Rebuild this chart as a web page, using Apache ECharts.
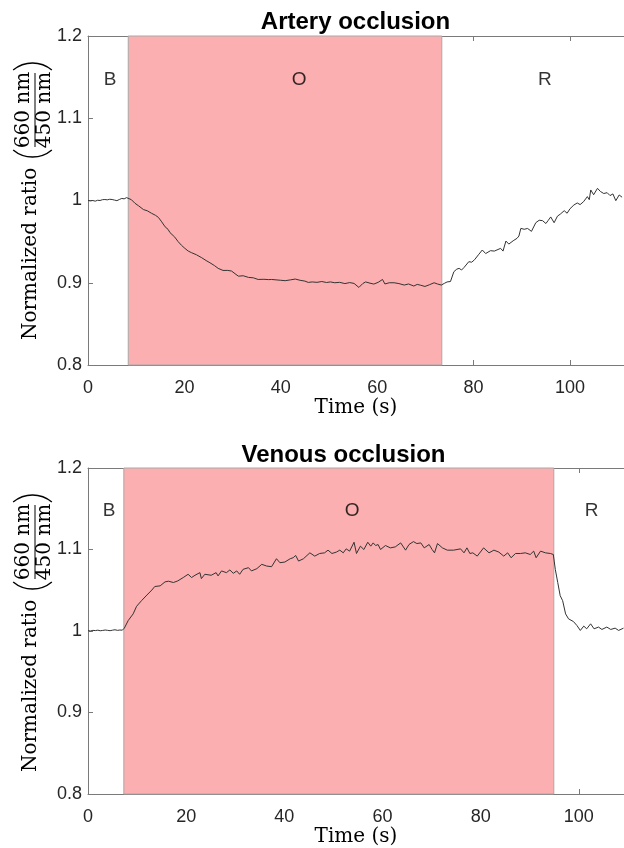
<!DOCTYPE html>
<html>
<head>
<meta charset="utf-8">
<script src="https://cdn.jsdelivr.net/npm/echarts@6/dist/echarts.min.js"></script>
<style>html,body{margin:0;padding:0;background:#fff;}#c{width:624px;height:848px;}</style>
</head>
<body>
<div id="c"></div>
<script>
// ---- data ----
const titles = ['Artery occlusion', 'Venous occlusion'];
const xTicks = [0, 20, 40, 60, 80, 100];
const yTicks = [0.8, 0.9, 1, 1.1, 1.2];
const phaseNames = ['B', 'O', 'R'];
const phaseY = 1.147;
const arteryPhaseX = [4.6, 43.8, 94.8];
const venousPhaseX = [4.3, 53.8, 102.6];
const arteryOcclusion = [8.35, 73.4];
const venousOcclusion = [7.3, 94.9];
const arteryXMax = 111.2;
const venousXMax = 109.2;

const arteryData = [[0,1.0000],[0.5,0.9995],[1,1.0000],[1.5,0.9992],[2,1.0003],[2.5,1.0000],[3,1.0010],[3.5,1.0012],[4,1.0008],[4.5,1.0015],[5,1.0012],[5.5,1.0005],[6,0.9998],[6.5,1.0012],[7,1.0025],[7.5,1.0020],[8,1.0035],[8.4,1.0030],[9,1.0010],[9.75,0.9966],[10.5,0.9935],[11.5,0.9890],[12.3,0.9875],[13.2,0.9844],[14,0.9820],[14.6,0.9795],[15.3,0.9740],[16,0.9680],[16.6,0.9650],[17,0.9610],[17.4,0.9600],[18,0.9555],[18.7,0.9500],[19.4,0.9455],[20.1,0.9418],[20.8,0.9385],[21.5,0.9365],[22.5,0.9340],[23.6,0.9304],[24.5,0.9270],[25.3,0.9243],[26.2,0.9210],[27,0.9175],[28,0.9150],[29,0.9150],[29.8,0.9142],[30.5,0.9110],[31.2,0.9080],[32.2,0.9085],[33.3,0.9065],[34.3,0.9060],[35.3,0.9040],[36.5,0.9042],[37.5,0.9038],[38.1,0.9040],[39,0.9035],[40,0.9030],[40.9,0.9025],[42,0.9035],[43,0.9045],[44,0.9030],[45,0.9020],[45.7,0.9004],[46.5,0.9010],[47.5,0.9005],[48.5,0.9015],[49.5,0.9003],[50.3,0.9010],[51.2,0.9000],[52.2,0.9005],[53.3,0.8990],[54.3,0.9002],[55.2,0.8992],[56.2,0.8943],[57,0.8990],[57.6,0.9010],[58.5,0.8995],[59.3,0.8984],[60.2,0.9005],[61.1,0.9040],[61.6,0.8985],[62.5,0.9000],[63.5,0.9000],[64.5,0.8990],[65.6,0.8972],[66.5,0.8985],[67.6,0.8960],[68.3,0.8980],[69,0.8970],[69.9,0.8955],[70.8,0.8975],[71.8,0.9000],[72.5,0.8985],[73.3,0.8972],[74,0.8995],[74.5,0.9010],[75.2,0.9015],[75.9,0.9134],[76.5,0.9165],[77,0.9175],[77.5,0.9155],[78,0.9185],[79,0.9256],[79.6,0.9250],[80.2,0.9280],[81,0.9340],[81.8,0.9398],[82.5,0.9355],[83.5,0.9390],[84.3,0.9385],[85.6,0.9418],[86.1,0.9385],[86.7,0.9507],[87.3,0.9470],[88.2,0.9510],[89,0.9540],[89.4,0.9568],[89.8,0.9661],[90.5,0.9650],[91.2,0.9660],[92,0.9625],[92.9,0.9730],[93.6,0.9760],[94.3,0.9755],[95,0.9720],[95.5,0.9760],[96,0.9800],[96.7,0.9730],[97.4,0.9810],[98,0.9835],[98.8,0.9876],[99.4,0.9845],[100,0.9900],[100.8,0.9945],[101.5,0.9970],[102.1,0.9950],[102.8,0.9985],[103.6,1.0047],[104,1.0010],[104.3,1.0128],[104.9,1.0070],[105.7,1.0148],[106.3,1.0110],[107,1.0085],[107.7,1.0095],[108.3,1.0060],[108.9,1.0080],[109.5,0.9998],[110.2,1.0067],[110.8,1.0040]];

const venousData = [[0,1.0005],[0.5,1.0000],[1,1.0008],[1.5,1.0005],[2,1.0010],[2.5,1.0003],[3,1.0007],[3.5,1.0012],[4,1.0008],[4.5,1.0004],[5,1.0010],[5.5,1.0015],[6,1.0008],[6.5,1.0012],[7,1.0010],[7.4,1.0035],[8.2,1.0129],[9.2,1.0210],[9.9,1.0303],[10.9,1.0372],[12.0,1.0441],[13.0,1.0502],[13.6,1.0546],[14.7,1.0554],[15.7,1.0603],[16.4,1.0611],[17.4,1.0595],[18.3,1.0615],[19.4,1.0656],[20.4,1.0696],[21.1,1.0656],[21.8,1.0684],[22.8,1.0716],[23.1,1.0643],[23.8,1.0696],[25.1,1.0684],[26.1,1.0716],[26.5,1.0676],[27.2,1.0737],[28.2,1.0716],[28.9,1.0749],[29.6,1.0708],[30.3,1.0737],[30.9,1.0696],[31.6,1.0757],[32.7,1.0777],[33.3,1.0737],[34.4,1.0765],[35.4,1.0818],[36.4,1.0797],[37.4,1.0789],[38.4,1.0887],[39.1,1.0838],[40.1,1.0846],[41.2,1.0887],[41.8,1.0899],[42.3,1.0927],[42.9,1.0858],[43.9,1.0887],[45.2,1.0959],[46.2,1.0919],[47.2,1.0951],[48.2,1.0959],[48.9,1.0992],[49.7,1.0951],[50.6,1.0968],[51.3,1.0992],[52.0,1.0959],[52.6,1.1008],[53.3,1.0980],[54.2,1.1089],[54.7,1.0951],[55.5,1.1041],[56.2,1.1000],[57.0,1.1089],[57.6,1.1041],[58.1,1.1081],[58.6,1.1049],[59.1,1.1061],[59.6,1.1000],[60.6,1.1049],[61.6,1.1020],[62.6,1.1032],[63.7,1.1081],[64.7,1.0992],[65.4,1.1061],[66.3,1.1097],[67.0,1.1073],[67.8,1.1081],[68.5,1.1020],[69.5,1.1061],[70.1,1.1000],[70.6,1.0959],[71.2,1.1073],[72.2,1.1020],[73.2,1.0992],[74.5,1.0992],[75.9,1.1008],[76.6,1.0959],[77.2,1.1020],[77.8,1.0951],[78.4,1.0959],[79.3,1.0919],[80.6,1.1020],[81.7,1.0959],[82.7,1.0992],[83.7,1.0968],[84.7,1.0919],[85.5,1.0959],[86.2,1.0899],[87.1,1.0951],[88.1,1.0951],[89.1,1.0959],[90.1,1.0939],[90.8,1.0980],[91.3,1.0899],[92.2,1.0980],[93.2,1.0959],[94.2,1.0951],[94.8,1.0939],[95.2,1.0757],[95.7,1.0595],[96.2,1.0433],[96.7,1.0372],[97.3,1.0210],[97.9,1.0149],[98.9,1.0116],[99.6,1.0068],[100.3,1.0007],[101.0,1.0060],[101.6,1.0027],[102.4,1.0088],[103.1,1.0027],[104.0,1.0048],[104.7,1.0019],[105.7,1.0048],[106.5,1.0019],[107.4,1.0035],[108.1,1.0007],[109.1,1.0035]];

// ---- styling / layout ----
const AX = '#7a7a7a';
const SANS = '"Liberation Sans", Arial, sans-serif';
const SERIF = '"DejaVu Serif", serif';
const PINK = '#FCAFB0';
const gridTops = [36, 468];
const plotH = 329;

function xBottom(gi, xmax) {
  return {
    type: 'value', gridIndex: gi, position: 'bottom', min: 0, max: xmax,
    axisLine: { show: true, onZero: false, lineStyle: { color: AX, width: 1 } },
    axisTick: { show: true, inside: true, length: 5, customValues: xTicks, lineStyle: { color: AX } },
    axisLabel: { customValues: xTicks, fontSize: 18, fontFamily: SANS, color: '#262626', margin: 14 },
    splitLine: { show: false },
    name: 'Time (s)', nameLocation: 'middle', nameGap: 33,
    nameTextStyle: { fontFamily: SERIF, fontSize: 20, color: '#000' }
  };
}
function xTop(gi, xmax) {
  return {
    type: 'value', gridIndex: gi, position: 'top', min: 0, max: xmax,
    axisLine: { show: true, onZero: false, lineStyle: { color: AX, width: 1 } },
    axisTick: { show: true, inside: true, length: 5, customValues: xTicks, lineStyle: { color: AX } },
    axisLabel: { show: false }, splitLine: { show: false }
  };
}
function yLeft(gi) {
  return {
    type: 'value', gridIndex: gi, min: 0.8, max: 1.2,
    axisLine: { show: true, onZero: false, lineStyle: { color: AX, width: 1 } },
    axisTick: { show: true, inside: true, length: 5, customValues: yTicks, lineStyle: { color: AX } },
    axisLabel: { customValues: yTicks, fontSize: 18, fontFamily: SANS, color: '#262626', margin: 6 },
    splitLine: { show: false }
  };
}
function lineSeries(xi, yi, data, occ) {
  return {
    type: 'line', xAxisIndex: xi, yAxisIndex: yi, data: data,
    showSymbol: false, symbol: 'none', silent: true,
    lineStyle: { color: '#333', width: 1 },
    markArea: {
      silent: true,
      itemStyle: { color: PINK, borderColor: '#a8a8a8', borderWidth: 1 },
      data: [[{ xAxis: occ[0] }, { xAxis: occ[1] }]]
    }
  };
}
function labelSeries(xi, yi, xs) {
  return {
    type: 'scatter', xAxisIndex: xi, yAxisIndex: yi, silent: true,
    symbolSize: 1, itemStyle: { color: 'rgba(0,0,0,0)' },
    data: xs.map((x, i) => [x, phaseY, phaseNames[i]]),
    label: { show: true, position: 'inside', formatter: p => p.data[2],
      fontSize: 19, fontFamily: SANS, color: '#000' }
  };
}
function yName(cy) {
  const R = 30, half = 0.70;
  return {
    type: 'group', x: 31, y: cy, rotation: Math.PI / 2, silent: true,
    children: [
      { type: 'text', x: 0, y: 0, style: { text: 'Normalized ratio', fontFamily: SERIF, fontSize: 20, fill: '#000', textAlign: 'left', textVerticalAlign: 'middle' } },
      { type: 'arc', shape: { cx: 183 + R, cy: 1.5, r: R, startAngle: Math.PI - half, endAngle: Math.PI + half, clockwise: true },
        style: { stroke: '#000', lineWidth: 1.4, fill: null } },
      { type: 'text', x: 230, y: -7, style: { text: '660 nm', fontFamily: SERIF, fontSize: 20, fill: '#000', textAlign: 'center', textVerticalAlign: 'middle' } },
      { type: 'line', shape: { x1: 193, y1: 4, x2: 267, y2: 4 }, style: { stroke: '#000', lineWidth: 1 } },
      { type: 'text', x: 230, y: 14, style: { text: '450 nm', fontFamily: SERIF, fontSize: 20, fill: '#000', textAlign: 'center', textVerticalAlign: 'middle' } },
      { type: 'arc', shape: { cx: 277 - R, cy: 1.5, r: R, startAngle: -half, endAngle: half, clockwise: true },
        style: { stroke: '#000', lineWidth: 1.4, fill: null } }
    ]
  };
}

const chart = echarts.init(document.getElementById('c'), null, { renderer: 'canvas' });
chart.setOption({
  animation: false,
  backgroundColor: '#fff',
  grid: [
    { left: 88, right: 0, top: gridTops[0], height: plotH },
    { left: 88, right: 0, top: gridTops[1], height: plotH }
  ],
  xAxis: [xBottom(0, arteryXMax), xTop(0, arteryXMax), xBottom(1, venousXMax), xTop(1, venousXMax)],
  yAxis: [yLeft(0), yLeft(1)],
  series: [
    lineSeries(0, 0, arteryData, arteryOcclusion),
    labelSeries(0, 0, arteryPhaseX),
    lineSeries(2, 1, venousData, venousOcclusion),
    labelSeries(2, 1, venousPhaseX)
  ],
  graphic: [
    { type: 'text', x: 355.5, y: 22, silent: true, style: { text: titles[0], fontFamily: SANS, fontWeight: 'bold', fontSize: 24, fill: '#000', textAlign: 'center', textVerticalAlign: 'middle' } },
    { type: 'text', x: 343.5, y: 455.5, silent: true, style: { text: titles[1], fontFamily: SANS, fontWeight: 'bold', fontSize: 24, fill: '#000', textAlign: 'center', textVerticalAlign: 'middle' } },
    yName(340),
    yName(772)
  ]
});
</script>
</body>
</html>
